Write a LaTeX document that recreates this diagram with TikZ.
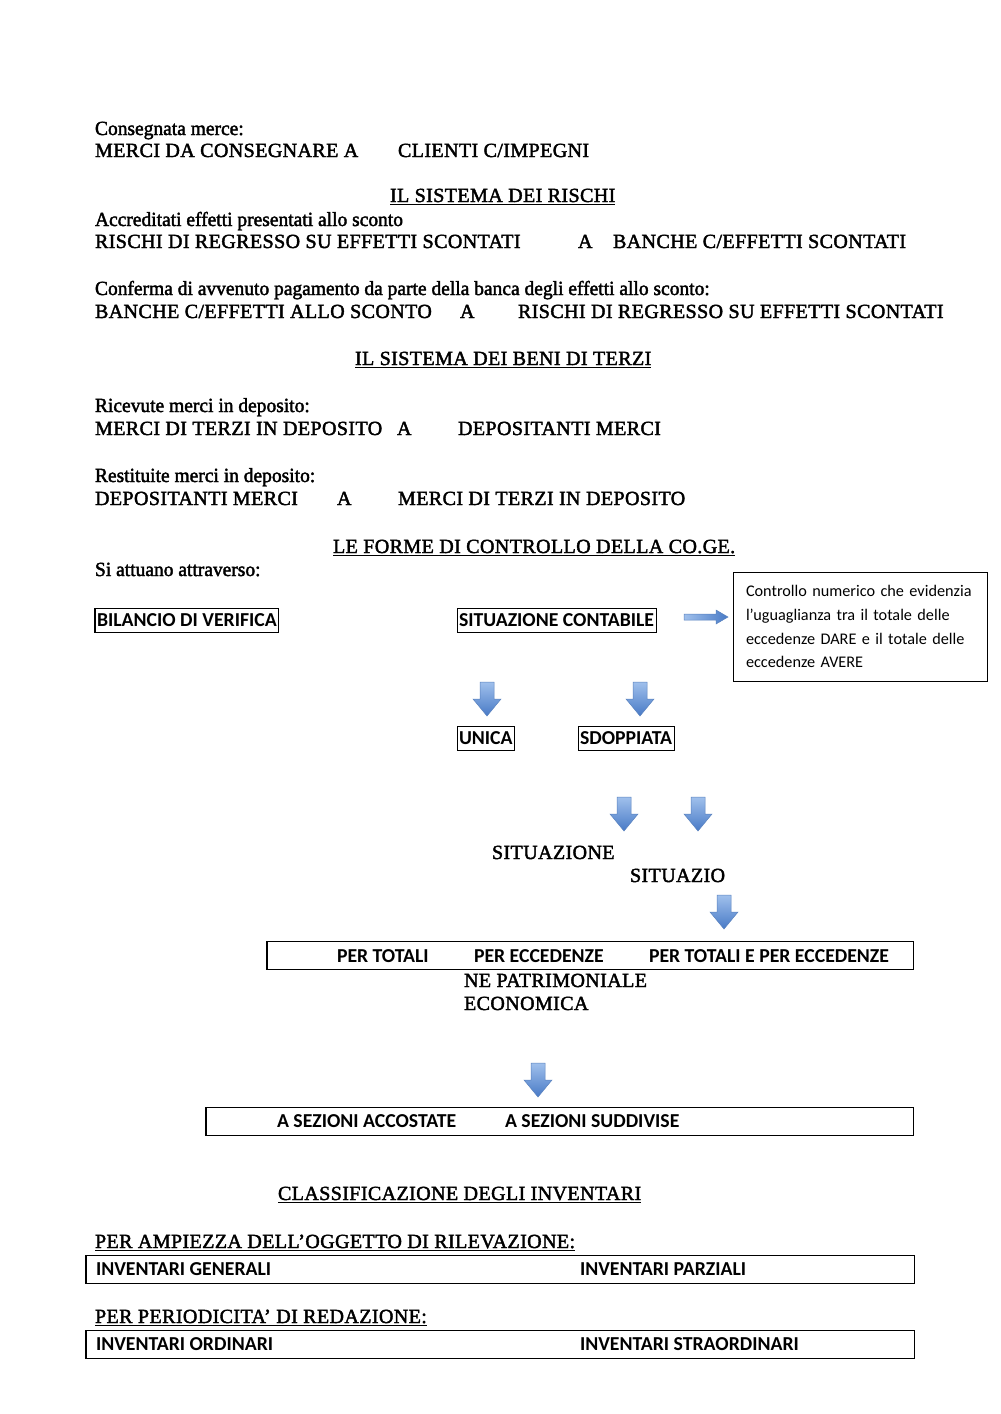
\documentclass[tikz,border=0pt]{standalone}
\usepackage{fontspec}
\usepackage{xcolor}
\newfontfamily\serifdoc{Liberation Serif}[FakeBold=2, FakeStretch=0.97]
\newfontfamily\serifcaps{Liberation Serif}[FakeBold=2, LetterSpace=1.8]
\newfontfamily\sansdoc{Carlito}
\usepackage{tikz}
\usetikzlibrary{positioning}
\definecolor{arrLight}{RGB}{160,192,236}
\definecolor{arrDark}{RGB}{72,122,198}
\definecolor{arrEdge}{RGB}{90,130,190}

\begin{document}
\begin{tikzpicture}[
    x=0.21mm, y=-0.21mm,
    every node/.style={inner sep=0pt, outer sep=0pt},
    ser/.style={anchor=base west, font=\serifdoc\fontsize{12}{14}\selectfont},
    sercaps/.style={anchor=base west, font=\serifcaps\fontsize{12}{14}\selectfont},
    sans/.style={anchor=west, font=\sansdoc\bfseries\fontsize{11.8}{13}\selectfont},
    capbox/.style={sans, draw, line width=0.6pt, inner xsep=1.2pt, minimum height=24*0.21mm},
    rowbox/.style={draw, line width=0.6pt, minimum height=28*0.21mm},
    dnarrow/.pic={\shade[top color=arrLight, bottom color=arrDark, draw=arrEdge, line width=0.3pt]
        (-7,0) -- (7,0) -- (7,17) -- (14,17) -- (0,34) -- (-14,17) -- (-7,17) -- cycle;},
    rtarrow/.pic={\shade[left color=arrLight, right color=arrDark, draw=arrEdge, line width=0.3pt]
        (0,-3) -- (32,-3) -- (32,-7) -- (44,0) -- (32,7) -- (32,3) -- (0,3) -- cycle;}
  ]
    \useasboundingbox (0,0) rectangle (1000,1414);

    % merci da consegnare
    \node[ser] (consegnata) at (95,135) {Consegnata merce:};
    \node[sercaps] (mdc) at (95,157) {MERCI DA CONSEGNARE A};
    \node[sercaps] (clienti) at (398,157) {CLIENTI C/IMPEGNI};

    % sistema dei rischi
    \node[sercaps] (titRischi) at (390,202) {\underline{IL SISTEMA DEI RISCHI}};
    \node[ser] (accreditati) at (95,226) {Accreditati effetti presentati allo sconto};
    \node[sercaps] (rischi1) at (95,248) {RISCHI DI REGRESSO SU EFFETTI SCONTATI};
    \node[sercaps] (a1) at (578,248) {A};
    \node[sercaps] (banche1) at (613,248) {BANCHE C/EFFETTI SCONTATI};
    \node[ser] (conferma) at (95,295) {Conferma di avvenuto pagamento da parte della banca degli effetti allo sconto:};
    \node[sercaps] (banche2) at (95,318) {BANCHE C/EFFETTI ALLO SCONTO};
    \node[sercaps] (a2) at (460,318) {A};
    \node[sercaps] (rischi2) at (518,318) {RISCHI DI REGRESSO SU EFFETTI SCONTATI};

    % sistema dei beni di terzi
    \node[sercaps] (titBeni) at (355,365) {\underline{IL SISTEMA DEI BENI DI TERZI}};
    \node[ser] (ricevute) at (95,412) {Ricevute merci in deposito:};
    \node[sercaps] (terzi1) at (95,435) {MERCI DI TERZI IN DEPOSITO};
    \node[sercaps] (a3) at (397,435) {A};
    \node[sercaps] (depos1) at (458,435) {DEPOSITANTI MERCI};
    \node[ser] (restituite) at (95,482) {Restituite merci in deposito:};
    \node[sercaps] (depos2) at (95,505) {DEPOSITANTI MERCI};
    \node[sercaps] (a4) at (337,505) {A};
    \node[sercaps] (terzi2) at (398,505) {MERCI DI TERZI IN DEPOSITO};

    % forme di controllo
    \node[sercaps] (titCoge) at (333,553) {\underline{LE FORME DI CONTROLLO DELLA CO.GE.}};
    \node[ser] (attuano) at (95,576) {Si attuano attraverso:};
    \node[capbox] (bilancio) at (95,620) {BILANCIO DI VERIFICA};
    \node[capbox] (situazione) at (457,620) {SITUAZIONE CONTABILE};
    \pic (arrNota) at (684,617) {rtarrow};
    \node[draw, line width=0.6pt, anchor=north west, minimum width=254*0.21mm, minimum height=109*0.21mm,
      text width=228*0.21mm, inner xsep=13*0.21mm, align=left,
      font=\sansdoc\fontsize{9.7}{14.3}\selectfont] (nota) at (733,572)
      {Controllo numerico che evidenzia\\l’uguaglianza tra il totale delle\\eccedenze DARE e il totale delle\\eccedenze AVERE};

    \pic (arrUnica) at (487,682) {dnarrow};
    \pic (arrSdopp) at (640,682) {dnarrow};
    \node[capbox] (unica) at (457,738) {UNICA};
    \node[capbox] (sdoppiata) at (578,738) {SDOPPIATA};

    \pic (arrPatr) at (624,797) {dnarrow};
    \pic (arrEcon) at (698,797) {dnarrow};
    \node[sercaps] (sitA) at (492,859) {SITUAZIONE};
    \node[sercaps] (sitB) at (630,882) {SITUAZIO};
    \pic (arrTipi) at (724,895) {dnarrow};

    \node[rowbox, minimum width=646*0.21mm] (tipiBox) at (590,955) {};
    \node[sans] (totali) at (337,956) {PER TOTALI};
    \node[sans] (eccedenze) at (474,956) {PER ECCEDENZE};
    \node[sans] (totEcc) at (649,956) {PER TOTALI E PER ECCEDENZE};
    \node[sercaps] (patrim) at (464,987) {NE PATRIMONIALE};
    \node[sercaps] (econ) at (464,1010) {ECONOMICA};

    \pic (arrSez) at (538,1063) {dnarrow};
    \node[rowbox, minimum width=707*0.21mm] (sezBox) at (559.5,1121) {};
    \node[sans] (accostate) at (277,1121) {A SEZIONI ACCOSTATE};
    \node[sans] (suddivise) at (505,1121) {A SEZIONI SUDDIVISE};

    % inventari
    \node[sercaps] (titInv) at (278,1200) {\underline{CLASSIFICAZIONE DEGLI INVENTARI}};
    \node[sercaps] (ampiezza) at (95,1248) {\underline{PER AMPIEZZA DELL’OGGETTO DI RILEVAZIONE:}};
    \node[rowbox, minimum width=828*0.21mm] (ampBox) at (500,1269) {};
    \node[sans] (generali) at (96,1269) {INVENTARI GENERALI};
    \node[sans] (parziali) at (580,1269) {INVENTARI PARZIALI};
    \node[sercaps] (periodicita) at (95,1323) {\underline{PER PERIODICITA’ DI REDAZIONE:}};
    \node[rowbox, minimum width=828*0.21mm] (perBox) at (500,1344) {};
    \node[sans] (ordinari) at (96,1344) {INVENTARI ORDINARI};
    \node[sans] (straord) at (580,1344) {INVENTARI STRAORDINARI};
  \end{tikzpicture}
\end{document}
